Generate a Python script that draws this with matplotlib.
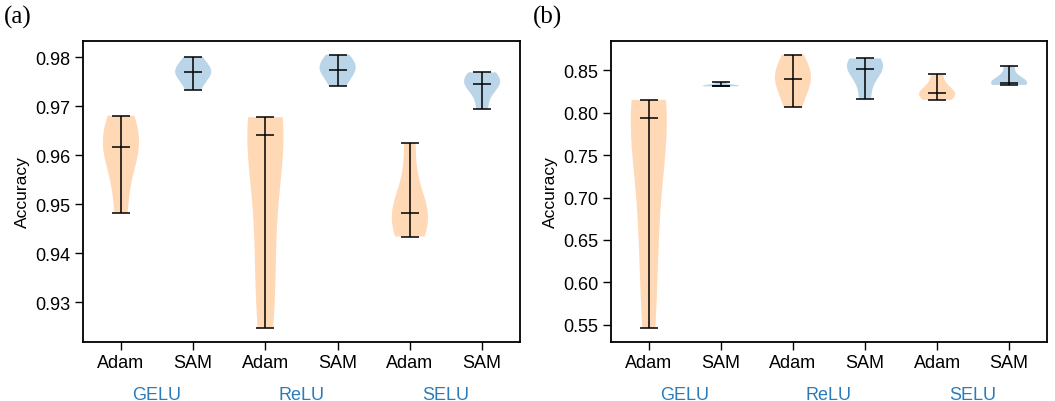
import numpy as np
import matplotlib.pyplot as plt
from matplotlib.transforms import blended_transform_factory

plt.rcParams['font.family'] = ['Liberation Sans', 'DejaVu Sans']
plt.rcParams['font.size'] = 13

labels = ['Adam', 'SAM', 'Adam', 'SAM', 'Adam', 'SAM']
groups = ['GELU', 'ReLU', 'SELU']

# accuracy over seeds, panel (a)
acc_a = [
    [0.9482, 0.9585, 0.9618, 0.9640, 0.9681],   # GELU Adam
    [0.97336, 0.9763, 0.97695, 0.9777, 0.9801],  # GELU SAM
    [0.92472, 0.9350, 0.9470, 0.9642, 0.9652, 0.9665, 0.96779],  # ReLU Adam
    [0.97418, 0.9770, 0.97735, 0.9790, 0.98055],  # ReLU SAM
    [0.94344, 0.9465, 0.94825, 0.9505, 0.96258],  # SELU Adam
    [0.96942, 0.9740, 0.97459, 0.9755, 0.97695],  # SELU SAM
]
# panel (b)
acc_b = [
    [0.5458, 0.6300, 0.7000, 0.7935, 0.8000, 0.8080, 0.8152],
    [0.8312, 0.8318, 0.8320, 0.8325, 0.8363],
    [0.8065, 0.8300, 0.8402, 0.8500, 0.8685],
    [0.8159, 0.8450, 0.8520, 0.8600, 0.8641],
    [0.8152, 0.8200, 0.8234, 0.8280, 0.8453],
    [0.8328, 0.8340, 0.8355, 0.8400, 0.8555],
]

colors = ['C1', 'C0', 'C1', 'C0', 'C1', 'C0']


def draw(ax, data, tag):
    pos = np.arange(1, len(data) + 1)
    parts = ax.violinplot(data, positions=pos, showmedians=True)
    for body, c in zip(parts['bodies'], colors):
        body.set_facecolor(c)
        body.set_edgecolor('none')
        body.set_alpha(0.3)
    for key in ['cmaxes', 'cmins', 'cbars', 'cmedians']:
        parts[key].set_color('black')
        parts[key].set_linewidth(1.1)
    ax.set_xticks(pos)
    ax.set_xticklabels(labels)
    ax.set_ylabel('Accuracy', fontsize=12.5)
    ax.tick_params(length=5.5, width=1)
    for sp in ax.spines.values():
        sp.set_linewidth(1.3)
    tr = blended_transform_factory(ax.transData, fig.transFigure)
    for i, g in enumerate(groups):
        ax.text(pos[2 * i] + 0.5, 0.016, g, color='#2b7bba', ha='center',
                va='center', transform=tr)
    ax.text(-0.18, 1.082, tag, transform=ax.transAxes, fontsize=18,
            family='Liberation Serif', va='center')


fig = plt.figure(figsize=(10.55, 4.02), dpi=100)
ax1 = fig.add_axes([0.0787, 0.1468, 0.4142, 0.7487])
ax2 = fig.add_axes([0.5791, 0.1468, 0.4133, 0.7487])
draw(ax1, acc_a, '(a)')
draw(ax2, acc_b, '(b)')
ax1.set_yticks([0.93, 0.94, 0.95, 0.96, 0.97, 0.98])

fig.savefig('out.png', dpi=100)
